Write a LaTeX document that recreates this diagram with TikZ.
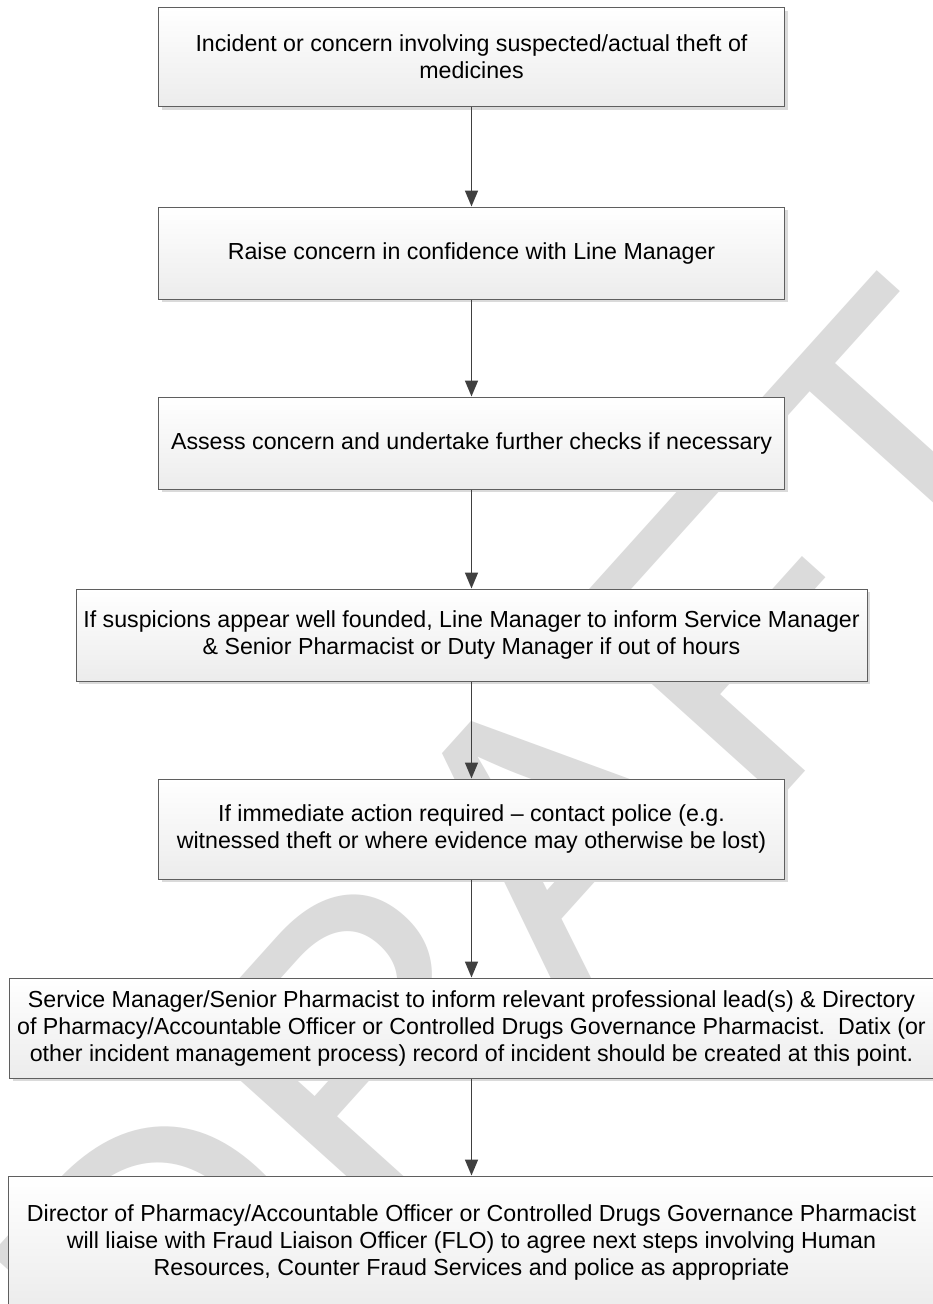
\documentclass[tikz,border=0pt]{standalone}
\usepackage{fontspec}
\setmainfont{Liberation Sans}
\usetikzlibrary{arrows.meta,shadows}
\definecolor{boxline}{RGB}{95,95,95}
\definecolor{boxtop}{RGB}{255,255,255}
\definecolor{boxbot}{RGB}{236,236,236}
\definecolor{shadecol}{RGB}{218,218,218}
\definecolor{arrowc}{RGB}{64,64,64}
\definecolor{wmcol}{RGB}{219,219,219}
\tikzset{
 flowbox/.style={draw=boxline, line width=1pt, top color=boxtop, bottom color=boxbot,
   inner sep=0pt, align=center, font=\fontsize{23.2}{27}\selectfont,
   drop shadow={shadow xshift=3pt, shadow yshift=-3pt, fill=shadecol, opacity=1}},
 flowarrow/.style={draw=arrowc, line width=1.6pt, -{Triangle[length=16pt,width=13pt]}},
}
\begin{document}
\begin{tikzpicture}[x=1pt,y=-1pt]
\useasboundingbox (0,0) rectangle (933,1304);
\clip (0,0) rectangle (933,1304);
\fill[white] (0,0) rectangle (933,1304);
\node[rotate=48, text=wmcol, inner sep=0pt, font=\fontsize{410}{410}\selectfont] (wmark) at (531,866) {DRAFT};

\node[flowbox, minimum width=626pt, minimum height=99pt] (b1) at (471.5,57)
 {Incident or concern involving suspected/actual theft of\\medicines};
\node[flowbox, minimum width=626pt, minimum height=92pt] (b2) at (471.5,253)
 {Raise concern in confidence with Line Manager};
\node[flowbox, minimum width=626pt, minimum height=92pt] (b3) at (471.5,443)
 {Assess concern and undertake further checks if necessary};
\node[flowbox, minimum width=791pt, minimum height=92pt] (b4) at (471.5,635)
 {If suspicions appear well founded, Line Manager to inform Service Manager\\\& Senior Pharmacist or Duty Manager if out of hours};
\node[flowbox, minimum width=626pt, minimum height=100pt] (b5) at (471.5,829)
 {If immediate action required – contact police (e.g.\\witnessed theft or where evidence may otherwise be lost)};
\node[flowbox, minimum width=924pt, minimum height=100pt] (b6) at (471.5,1028)
 {Service Manager/Senior Pharmacist to inform relevant professional lead(s) \& Directory\\of Pharmacy/Accountable Officer or Controlled Drugs Governance Pharmacist.\ \ Datix (or\\other incident management process) record of incident should be created at this point.};
\node[flowbox, minimum width=926pt, minimum height=132pt] (b7) at (471.5,1242)
 {Director of Pharmacy/Accountable Officer or Controlled Drugs Governance Pharmacist\\will liaise with Fraud Liaison Officer (FLO) to agree next steps involving Human\\Resources, Counter Fraud Services and police as appropriate};

\draw[flowarrow] (b1) -- (b2);
\draw[flowarrow] (b2) -- (b3);
\draw[flowarrow] (b3) -- (b4);
\draw[flowarrow] (b4) -- (b5);
\draw[flowarrow] (b5) -- (b6);
\draw[flowarrow] (b6) -- (b7);
\end{tikzpicture}
\end{document}
